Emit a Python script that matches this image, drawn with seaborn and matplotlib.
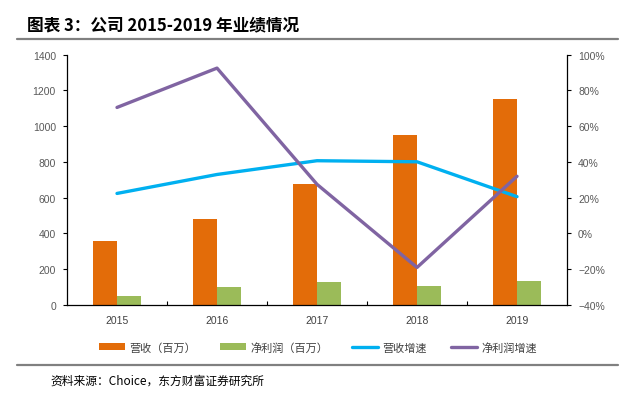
import numpy as np
import pandas as pd
import matplotlib
matplotlib.use("Agg")
import matplotlib.pyplot as plt
import seaborn as sns
from matplotlib.lines import Line2D
from matplotlib.patches import Patch
from matplotlib.ticker import FuncFormatter

years = ["2015", "2016", "2017", "2018", "2019"]
revenue = [358, 481, 677, 951, 1152]          # 营收（百万）
net_profit = [50, 99, 127, 104, 136]          # 净利润（百万）
revenue_growth = [22.4, 33.0, 40.7, 40.1, 20.6]   # 营收增速 %
profit_growth = [70.5, 92.5, 27.5, -19.0, 32.0]   # 净利润增速 %

series_names = ["营收（百万）", "净利润（百万）", "营收增速", "净利润增速"]
title_text = "图表 3：公司 2015-2019 年业绩情况"
source_text = "资料来源：Choice，东方财富证券研究所"

c_rev = "#E36C09"
c_np = "#9BBB59"
c_rg = "#00B0F0"
c_pg = "#8064A2"

sns.set_style("white")
plt.rcParams["font.family"] = ["Noto Sans CJK SC", "DejaVu Sans"]

bars = pd.DataFrame({
    "year": years * 2,
    "value": revenue + net_profit,
    "series": [series_names[0]] * len(years) + [series_names[1]] * len(years),
})

fig = plt.figure(figsize=(6.36, 4.02), dpi=100)
W, H = 636, 402
ax = fig.add_axes([67 / W, 1 - 306 / H, 500 / W, 250.3 / H])

sns.barplot(data=bars, x="year", y="value", hue="series", order=years,
            hue_order=series_names[:2], palette=[c_rev, c_np],
            width=0.48, gap=0, dodge=True, ax=ax, legend=False,
            saturation=1, edgecolor="none")
ax.set_xlim(-0.5, len(years) - 0.5)
ax.set_ylim(0, 1400)
ax.set_yticks(np.arange(0, 1401, 200))
ax.set_xlabel("")
ax.set_ylabel("")

ax2 = ax.twinx()
xpos = np.arange(len(years))
lines_df = pd.DataFrame({
    "x": np.concatenate([xpos, xpos]),
    "g": revenue_growth + profit_growth,
    "series": [series_names[2]] * len(years) + [series_names[3]] * len(years),
})
sns.lineplot(data=lines_df, x="x", y="g", hue="series",
             hue_order=series_names[2:], palette=[c_rg, c_pg],
             linewidth=2.4, ax=ax2, legend=False)
ax2.set_ylim(-40, 100)
ax2.set_yticks(np.arange(-40, 101, 20))
ax2.yaxis.set_major_formatter(FuncFormatter(lambda v, p: f"{int(v)}%".replace("-", "\u2212")))
ax2.set_xlim(-0.5, len(years) - 0.5)
ax2.set_xlabel("")
ax2.set_ylabel("")

tick_color = "#595959"
for a in (ax, ax2):
    for s in a.spines.values():
        s.set_visible(False)
    a.grid(False)
ax.spines["left"].set_visible(True)
ax.spines["bottom"].set_visible(True)
ax2.spines["right"].set_visible(True)
for s in (ax.spines["left"], ax.spines["bottom"], ax2.spines["right"]):
    s.set_color("#000000")
    s.set_linewidth(0.9)

ax.tick_params(axis="y", which="both", left=True, direction="out", length=3,
               width=0.8, colors="#000000", labelcolor=tick_color, labelsize=7.5, pad=5)
ax2.tick_params(axis="y", which="both", right=True, direction="out", length=3,
                width=0.8, colors="#000000", labelcolor=tick_color, labelsize=7.5, pad=5)
for lbl in ax.get_yticklabels() + ax2.get_yticklabels():
    lbl.set_family("Liberation Sans")

# category x labels and boundary ticks
ax.set_xticks(xpos)
ax.set_xticklabels(years)
ax.tick_params(axis="x", which="major", length=0, labelcolor="#404040", labelsize=7.5, pad=7)
for lbl in ax.get_xticklabels():
    lbl.set_family("Liberation Sans")
ax.set_xticks(np.arange(0.5, len(years) - 0.5, 1), minor=True)
ax.tick_params(axis="x", which="minor", direction="in", length=3, width=0.8,
               color="#000000", bottom=True)
ax2.tick_params(axis="x", which="both", bottom=False, top=False, labelbottom=False)

handles = [
    Patch(facecolor=c_rev, edgecolor="none"),
    Patch(facecolor=c_np, edgecolor="none"),
    Line2D([0], [0], color=c_rg, linewidth=2.4),
    Line2D([0], [0], color=c_pg, linewidth=2.4),
]
leg = fig.legend(handles, series_names, loc="center", ncol=4,
                 bbox_to_anchor=(318 / W, 1 - 348 / H), frameon=False,
                 fontsize=8, handlelength=2.3, handleheight=0.5,
                 handletextpad=0.4, columnspacing=2.2)
for t in leg.get_texts():
    t.set_color("#404040")

fig.text(27 / W, 1 - 25 / H, title_text, fontsize=12, fontweight="bold",
         va="center", ha="left", color="#000000")
fig.add_artist(Line2D([17 / W, 618 / W], [1 - 40 / H, 1 - 40 / H],
                      color="#808080", linewidth=1.6))
fig.add_artist(Line2D([17 / W, 618 / W], [1 - 366 / H, 1 - 366 / H],
                      color="#808080", linewidth=1.6))
fig.text(50 / W, 1 - 381 / H, source_text, fontsize=8.5, va="center",
         ha="left", color="#000000")

fig.savefig("out.png", dpi=100)
